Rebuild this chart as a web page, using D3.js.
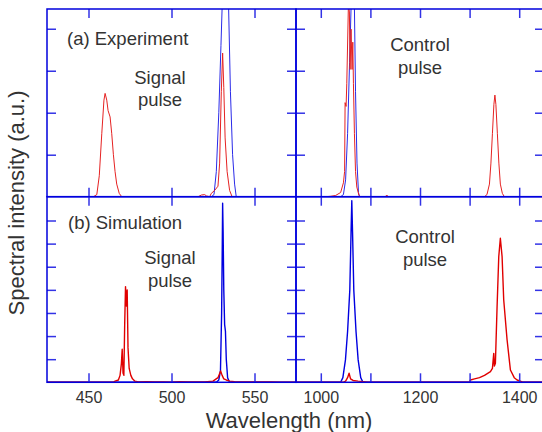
<!DOCTYPE html>
<html>
<head>
<meta charset="utf-8">
<script src="https://cdn.jsdelivr.net/npm/d3@7"></script>
<style>
  body { margin: 0; background: #fff; }
  text { font-family: "Liberation Sans", Arial, sans-serif; fill: #333; }
</style>
</head>
<body>
<svg id="chart" width="542" height="432"></svg>
<script>
// ---- data (wavelength in nm, intensity in a.u.) ----
const signalTicks = [450, 500, 550];
const signalLabels = [450, 500, 550];
const controlTicks = [1000, 1100, 1200, 1300, 1400];
const controlLabels = [1000, 1200, 1400];
const expYTicks = [1, 2, 3, 4];
const simYTicks = [1, 2, 3, 4, 5, 6, 7];

const expRedSignal = [
  [425,0],[453,0],[455,0.05],[456.5,0.5],[458,1.5],[459.3,2.3],[460,2.46],[461,2.3],
  [461.8,2.05],[463,1.9],[464,1.5],[465,1.0],[466,0.6],[467,0.3],[468.5,0.08],[470,0],
  [516,0],[518,0.04],[520,0.05],[521,0.02],[523,0],[524,0.08],[526,0.15],[528,0.25],
  [529,0.8],[530,2.5],[530.8,3.42],[531.5,2.6],[532.3,1.4],[533.5,0.6],[535,0.15],[536.5,0],[575,0]
];
const expBlueSignal = [
  [425,0],[524,0],[525.6,0.05],[527,0.6],[528.5,2.0],[529.8,3.6],[530.5,4.5],[531.5,6.5],
  [533,6.5],[534.4,4.5],[535.5,2.5],[536.8,1.0],[538,0.3],[539,0],[575,0]
];
const expRedControl = [
  [950,0],[1010,0],[1020,0.01],[1030,0.03],[1040,0.1],[1045.6,0.33],[1048,0.6],[1049,2.24],
  [1051,2.15],[1052.4,2.7],[1055.7,4.6],[1057.7,4.4],[1059,3.03],[1061,3.99],[1063,3.03],
  [1064.5,3.68],[1065.8,2.7],[1067.8,1.5],[1070,0.6],[1072.6,0.23],[1077,0.03],[1080,0],
  [1130,0],[1133,0.04],[1136,0],
  [1330,0],[1335,0.05],[1340,0.3],[1343,0.8],[1346,1.5],[1349,2.2],[1351,2.42],[1353,2.2],
  [1356,1.5],[1359,0.8],[1362,0.3],[1366,0.08],[1370,0],[1450,0]
];
const expBlueControl = [
  [950,0],[1040,0],[1045.6,0.05],[1050,0.4],[1054,1.5],[1058,3.2],[1061,4.5],[1063,6],
  [1066,6],[1067.8,4.5],[1070,2.5],[1073,0.8],[1076,0.1],[1078,0],[1450,0]
];
const simRedSignal = [
  [425,0],[465,0],[466,0.05],[468,0.1],[469,0.3],[469.8,0.8],[470.3,1.43],[470.8,0.4],
  [471.3,0.3],[471.8,2.5],[472.3,4.14],[472.8,3.3],[473.3,4.0],[473.8,1.5],[474.5,0.6],
  [475.5,0.3],[476.5,0.15],[478,0.05],[480,0.02],[485,0.03],[490,0.01],[495,0.02],[500,0],
  [505,0.03],[510,0.02],[515,0.01],[520,0.02],[525,0.05],[528,0.2],[529.6,0.49],[530.5,0.3],
  [531.5,0.15],[533,0.1],[535,0.05],[538,0.03],[540,0.02],[545,0.01],[550,0.02],[555,0.01],
  [560,0.02],[565,0],[575,0]
];
const simBlueSignal = [
  [425,0],[527,0],[528.5,0.1],[529.5,0.5],[530.2,3],[530.6,6],[530.8,7.75],[531.1,6.5],
  [531.5,4],[532,2.5],[532.5,2.2],[533,1.0],[533.8,0.2],[535,0],[575,0]
];
const simRedControl = [
  [950,0],[1045,0],[1050,0.05],[1054,0.2],[1057,0.39],[1060,0.15],[1065,0.08],[1075,0.05],
  [1085,0.03],[1095,0],
  [1300,0],[1301.5,0.1],[1310,0.15],[1320,0.2],[1330,0.3],[1342,0.46],[1346,0.6],
  [1348.7,1.25],[1350,0.7],[1352,0.82],[1355.4,3.27],[1358.8,5.44],[1362,6.23],
  [1365.5,5.44],[1368.8,3.56],[1375.6,1.83],[1382.3,0.53],[1390,0.2],[1395.8,0.1],
  [1406,0.02],[1410,0],[1450,0]
];
const simBlueControl = [
  [950,0],[1040,0],[1044.5,0.2],[1049.7,0.97],[1054,2.2],[1058.5,4.0],[1061,6.5],
  [1062.5,7.86],[1064,6.5],[1066.5,4.0],[1071,2.2],[1075.3,0.97],[1080.5,0.2],[1085,0],[1450,0]
];

// ---- layout ----
const svg = d3.select('#chart');
const xL = 47, xM = 296, xR = 544;
const yT = 9, yM = 196.7, yB = 382.3;
const blue = '#0000dd';
const tickBlue = '#3333e6';

const panels = [
  { id: 'tl', x0: xL, x1: xM, y0: yT, y1: yM, dom: [425, 575], ymax: 4.47, ticks: signalTicks, labels: null, yt: expYTicks,
    series: [{ d: expBlueSignal, c: '#2a2ae8', w: 1 }, { d: expRedSignal, c: '#e52222', w: 1 }] },
  { id: 'tr', x0: xM, x1: xR, y0: yT, y1: yM, dom: [950, 1450], ymax: 4.47, ticks: controlTicks, labels: null, yt: expYTicks,
    series: [{ d: expBlueControl, c: '#2a2ae8', w: 1 }, { d: expRedControl, c: '#e52222', w: 1 }] },
  { id: 'bl', x0: xL, x1: xM, y0: yM, y1: yB, dom: [425, 575], ymax: 8.03, ticks: signalTicks, labels: signalLabels, yt: simYTicks,
    series: [{ d: simBlueSignal, c: '#0000e0', w: 1.4 }, { d: simRedSignal, c: '#e00000', w: 1.4 }] },
  { id: 'br', x0: xM, x1: xR, y0: yM, y1: yB, dom: [950, 1450], ymax: 8.03, ticks: controlTicks, labels: controlLabels, yt: simYTicks,
    series: [{ d: simBlueControl, c: '#0000e0', w: 1.4 }, { d: simRedControl, c: '#e00000', w: 1.4 }] }
];

const defs = svg.append('defs');

panels.forEach(p => {
  const x = d3.scaleLinear().domain(p.dom).range([p.x0, p.x1]);
  const y = d3.scaleLinear().domain([0, p.ymax]).range([p.y1, p.y0]);

  defs.append('clipPath').attr('id', 'clip-' + p.id)
    .append('rect').attr('x', p.x0).attr('y', p.y0)
    .attr('width', p.x1 - p.x0).attr('height', p.y1 - p.y0);

  const g = svg.append('g');
  const line = d3.line().x(d => x(d[0])).y(d => y(d[1]));

  p.series.forEach(s => {
    g.append('path')
      .datum(s.d)
      .attr('clip-path', `url(#clip-${p.id})`)
      .attr('fill', 'none')
      .attr('stroke', s.c)
      .attr('stroke-width', s.w)
      .attr('stroke-linejoin', 'round')
      .attr('d', line);
  });

  // inward ticks on all four sides
  const fmt = d => (p.labels && p.labels.includes(d)) ? d : '';
  const axes = [
    { a: d3.axisBottom(x).tickValues(p.ticks).tickSize(-9).tickPadding(9).tickFormat(fmt), t: `translate(0,${p.y1})` },
    { a: d3.axisTop(x).tickValues(p.ticks).tickSize(-9).tickFormat(''), t: `translate(0,${p.y0})` },
    { a: d3.axisLeft(y).tickValues(p.yt).tickSize(-9).tickFormat(''), t: `translate(${p.x0},0)` },
    { a: d3.axisRight(y).tickValues(p.yt).tickSize(-9).tickFormat(''), t: `translate(${p.x1},0)` }
  ];
  axes.forEach(ax => {
    const ag = g.append('g').attr('transform', ax.t).call(ax.a);
    ag.select('.domain').remove();
    ag.selectAll('.tick line').attr('stroke', tickBlue).attr('stroke-width', 1.5);
    ag.selectAll('.tick text')
      .style('font-family', '"Liberation Sans", Arial, sans-serif')
      .style('font-size', '16px')
      .attr('fill', '#333');
  });

  g.append('rect')
    .attr('x', p.x0).attr('y', p.y0)
    .attr('width', p.x1 - p.x0).attr('height', p.y1 - p.y0)
    .attr('fill', 'none').attr('stroke', blue).attr('stroke-width', 1.5);
});

// annotations
const notes = [
  { t: '(a) Experiment', x: 67, y: 45, a: 'start' },
  { t: 'Signal', x: 160, y: 84, a: 'middle' },
  { t: 'pulse', x: 160, y: 106, a: 'middle' },
  { t: 'Control', x: 420, y: 51, a: 'middle' },
  { t: 'pulse', x: 420, y: 74, a: 'middle' },
  { t: '(b) Simulation', x: 68, y: 229, a: 'start' },
  { t: 'Signal', x: 170, y: 264, a: 'middle' },
  { t: 'pulse', x: 170, y: 287, a: 'middle' },
  { t: 'Control', x: 425, y: 243, a: 'middle' },
  { t: 'pulse', x: 425, y: 266, a: 'middle' }
];
svg.selectAll('.note').data(notes).enter().append('text')
  .attr('class', 'note')
  .attr('x', d => d.x).attr('y', d => d.y)
  .attr('text-anchor', d => d.a)
  .style('font-size', '18.5px')
  .text(d => d.t);

svg.append('text')
  .attr('x', 289).attr('y', 428)
  .attr('text-anchor', 'middle')
  .style('font-size', '22px')
  .text('Wavelength (nm)');

svg.append('text')
  .attr('transform', 'translate(24,203) rotate(-90)')
  .attr('text-anchor', 'middle')
  .style('font-size', '22px')
  .text('Spectral intensity (a.u.)');
</script>
</body>
</html>
